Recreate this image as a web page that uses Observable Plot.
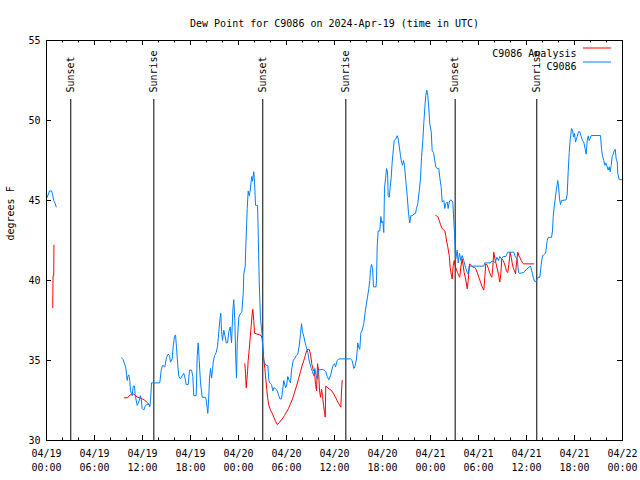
<!DOCTYPE html>
<html>
<head>
<meta charset="utf-8">
<script src="https://cdn.jsdelivr.net/npm/d3@7"></script>
<script src="https://cdn.jsdelivr.net/npm/@observablehq/plot@0.6"></script>
<style>
  html, body { margin: 0; padding: 0; background: #fff; }
  svg { display: block; }
</style>
</head>
<body>
<div id="chart"></div>
<script>
// ---- data (time in hours since 2024-04-19 00:00 UTC) ----
const title = "Dew Point for C9086 on 2024-Apr-19 (time in UTC)";
const yLabel = "degrees F";
const seriesNames = ["C9086 Analysis", "C9086"];
const seriesColors = ["#ff0000", "#0080ff"];

const c9086 = [
[0.09,45.2],[0.38,45.6],[0.63,45.6],[0.75,45.4],[0.91,45.0],[1.09,44.8],[1.21,44.6],[1.3,null],
[9.38,35.17],[9.59,35.05],[9.75,34.8],[9.91,34.55],[10.09,33.75],[10.16,34.0],[10.29,34.1],[10.41,33.75],[10.5,33.1],[10.71,32.8],[10.84,33.4],[11.0,33.4],[11.09,32.8],[11.34,32.2],[11.54,32.4],[11.75,32.8],[11.84,32.6],[11.96,32.0],[12.16,31.9],[12.38,32.2],[12.59,32.25],[12.84,32.25],[12.91,32.1],[13.0,32.5],[13.13,33.6],[14.16,33.6],[14.34,34.4],[14.5,34.7],[14.79,34.6],[15.0,35.2],[15.21,35.4],[15.38,35.3],[15.5,34.9],[15.71,35.1],[15.84,35.9],[16.0,36.5],[16.13,36.6],[16.25,35.8],[16.41,34.7],[16.54,34.0],[16.75,33.85],[16.96,34.05],[17.16,34.2],[17.34,33.85],[17.46,33.5],[17.71,33.5],[17.88,34.4],[18.13,34.4],[18.29,34.0],[18.41,32.8],[18.71,32.8],[18.84,35.3],[18.96,36.1],[19.09,35.0],[19.25,33.6],[19.46,32.7],[19.88,32.7],[20.0,32.4],[20.09,32.0],[20.16,31.7],[20.25,32.4],[20.38,33.9],[20.5,34.5],[20.63,33.9],[20.75,34.4],[20.84,34.9],[21.0,35.3],[21.21,35.5],[21.38,35.9],[21.54,36.8],[21.66,37.5],[21.79,37.95],[21.88,36.8],[22.0,36.25],[22.16,36.9],[22.29,36.6],[22.46,36.1],[22.63,36.1],[22.79,36.8],[22.96,37.1],[23.13,36.1],[23.29,38.1],[23.41,38.8],[23.54,37.5],[23.66,35.1],[23.75,33.9],[23.84,36.1],[24.04,37.7],[24.25,37.95],[24.41,38.0],[24.59,39.2],[24.66,40.4],[24.84,40.9],[24.91,42.1],[25.09,44.5],[25.21,45.6],[25.34,45.3],[25.46,45.6],[25.59,46.25],[25.66,46.5],[25.75,46.2],[25.91,46.8],[26.0,46.2],[26.13,44.7],[26.38,44.7],[26.46,43.1],[26.59,39.9],[26.75,37.6],[26.96,36.6],[27.04,35.5],[27.16,35.0],[27.29,34.8],[27.5,34.7],[27.66,34.7],[27.79,33.75],[27.91,33.6],[28.13,33.5],[28.29,33.1],[28.41,33.3],[28.63,33.25],[28.84,33.1],[29.04,32.8],[29.16,32.6],[29.38,32.6],[29.5,33.1],[29.66,33.75],[29.88,33.3],[30.0,33.4],[30.16,34.0],[30.34,33.75],[30.5,33.6],[30.63,34.4],[30.84,35.0],[31.0,35.1],[31.21,35.3],[31.41,35.4],[31.59,35.9],[31.75,36.7],[31.88,37.3],[32.0,36.8],[32.16,36.5],[32.34,36.1],[32.5,35.8],[32.66,35.5],[32.88,34.9],[33.09,34.5],[33.25,34.3],[33.41,34.05],[33.54,34.5],[33.71,34.05],[33.84,33.85],[34.0,34.4],[34.46,34.45],[34.71,34.4],[34.91,34.3],[35.09,34.0],[35.29,33.8],[35.5,34.05],[35.66,34.4],[35.84,34.7],[36.0,34.8],[36.13,34.6],[36.34,35.0],[36.54,35.1],[38.0,35.1],[38.21,35.0],[38.41,34.5],[38.54,34.6],[38.75,35.1],[38.91,36.1],[39.04,35.8],[39.16,35.7],[39.29,36.7],[39.46,36.9],[39.66,37.3],[39.88,38.2],[40.09,38.85],[40.29,39.5],[40.41,40.0],[40.5,40.7],[40.63,41.0],[40.75,40.8],[40.88,39.6],[41.19,39.6],[41.25,40.0],[41.34,42.2],[41.46,43.1],[41.66,43.1],[41.79,44.0],[41.91,43.6],[42.04,43.7],[42.16,43.0],[42.25,45.8],[42.38,46.35],[42.5,47.0],[42.63,46.8],[42.71,45.3],[42.84,45.2],[42.96,45.8],[43.09,46.45],[43.21,47.4],[43.34,48.1],[43.46,48.75],[43.66,48.85],[43.84,49.05],[43.96,48.85],[44.09,48.4],[44.25,47.8],[44.38,47.4],[44.5,47.2],[44.63,47.5],[44.75,47.2],[44.91,46.25],[45.09,45.3],[45.25,44.2],[45.41,43.6],[45.54,44.05],[45.75,44.05],[45.91,44.15],[46.13,44.2],[46.25,44.5],[46.41,44.8],[46.59,45.6],[46.75,46.35],[46.88,47.7],[47.04,48.75],[47.16,49.8],[47.29,50.8],[47.41,51.56],[47.54,51.9],[47.66,51.56],[47.79,50.8],[47.91,49.8],[48.09,49.3],[48.21,48.1],[48.38,48.0],[48.5,47.6],[48.66,47.1],[48.84,47.0],[49.04,47.0],[49.16,46.45],[49.34,45.8],[49.46,44.9],[49.66,45.0],[49.79,44.5],[49.91,44.8],[50.09,44.9],[50.21,44.5],[50.34,44.9],[50.5,45.04],[50.66,45.0],[50.79,44.9],[50.91,43.75],[51.0,43.0],[51.09,41.9],[51.16,41.35],[51.34,41.9],[51.46,41.1],[51.63,41.7],[51.79,41.25],[51.96,41.56],[52.16,41.25],[52.38,40.8],[52.59,40.5],[52.71,40.4],[52.84,40.9],[54.66,40.9],[54.79,41.1],[55.5,41.1],[55.63,41.2],[55.91,41.2],[56.09,41.1],[56.29,41.45],[56.5,41.25],[56.66,41.5],[56.88,41.35],[57.09,41.5],[57.41,41.5],[57.66,41.77],[58.41,41.77],[58.63,41.45],[58.84,41.35],[59.0,40.5],[59.16,40.45],[59.66,40.5],[60.0,40.7],[60.5,40.9],[60.66,40.6],[60.84,40.2],[61.0,39.95],[61.25,39.95],[61.41,40.2],[61.66,40.2],[61.84,41.0],[62.0,41.56],[62.16,41.6],[62.38,41.7],[62.59,42.5],[62.71,42.7],[63.13,42.7],[63.25,43.1],[63.34,44.0],[63.46,44.6],[63.59,45.1],[63.71,45.6],[63.84,46.0],[63.91,46.25],[64.0,45.9],[64.13,45.1],[64.25,44.75],[64.38,45.0],[64.96,45.04],[65.09,45.4],[65.21,46.8],[65.34,48.0],[65.46,48.8],[65.63,49.5],[65.75,49.4],[65.88,48.96],[66.0,49.2],[66.13,48.65],[66.34,49.0],[66.5,49.3],[66.66,49.3],[66.84,49.0],[67.0,48.75],[67.16,48.65],[67.34,48.2],[67.46,47.9],[67.59,48.75],[67.71,49.04],[67.84,48.75],[67.96,48.9],[68.09,49.06],[69.25,49.06],[69.38,48.2],[69.5,47.8],[69.66,47.5],[69.79,47.2],[69.91,47.35],[70.09,47.1],[70.21,46.9],[70.34,47.1],[70.46,46.8],[70.59,47.2],[70.71,47.75],[70.84,47.9],[70.96,48.1],[71.09,48.2],[71.21,47.6],[71.34,47.4],[71.41,46.7],[71.59,46.3],[72.0,46.3]
];

const c9086Analysis = [
[0.78,38.3],[0.82,40.3],[0.9,40.3],[0.93,42.2],[1.0,null],
[9.75,32.67],[10.09,32.67],[10.29,32.75],[10.59,32.9],[10.91,32.9],[11.16,32.8],[11.41,32.7],[11.66,32.67],[11.96,32.6],[12.25,32.54],[12.5,32.4],[12.75,32.3],[13.0,null],
[24.79,34.8],[24.88,34.2],[24.96,33.3],[25.04,33.75],[25.13,34.3],[25.21,35.0],[25.34,35.7],[25.46,36.4],[25.59,37.2],[25.71,37.9],[25.79,38.2],[25.91,37.5],[26.0,36.7],[26.34,36.65],[26.66,36.6],[26.84,36.56],[26.96,36.35],[27.04,35.9],[27.16,35.1],[27.29,34.5],[27.46,33.6],[27.63,32.7],[27.79,32.2],[28.0,31.9],[28.21,31.7],[28.41,31.46],[28.63,31.2],[28.84,31.0],[29.16,31.15],[29.46,31.35],[29.75,31.56],[30.0,31.77],[30.25,32.0],[30.5,32.3],[30.75,32.6],[31.0,33.0],[31.25,33.4],[31.5,33.85],[31.75,34.3],[31.96,34.7],[32.16,35.0],[32.34,35.3],[32.5,35.6],[32.66,35.7],[32.84,35.7],[33.0,35.4],[33.16,34.8],[33.34,34.4],[33.5,34.3],[33.63,33.5],[33.75,33.1],[33.88,34.8],[34.0,34.4],[34.13,33.1],[34.25,32.7],[34.38,33.2],[34.5,32.8],[34.63,32.2],[34.75,31.77],[34.84,31.46],[34.91,33.4],[35.16,33.3],[35.41,33.2],[35.66,33.1],[35.91,32.9],[36.16,32.67],[36.41,32.4],[36.66,32.2],[36.79,32.08],[36.88,33.1],[36.96,33.75],[37.2,null],
[48.66,44.06],[48.91,44.0],[49.09,43.75],[49.25,43.5],[49.41,43.3],[49.59,43.17],[49.79,43.1],[49.91,42.8],[50.04,42.4],[50.16,42.1],[50.34,41.56],[50.46,40.83],[50.59,40.4],[50.71,40.1],[50.84,40.94],[50.96,41.25],[51.09,40.9],[51.21,40.73],[51.38,40.5],[51.54,40.3],[51.66,40.2],[51.79,40.83],[51.96,41.35],[52.09,40.9],[52.21,40.5],[52.34,40.2],[52.46,39.9],[52.59,39.48],[52.71,40.0],[52.88,41.04],[53.09,40.94],[53.29,40.83],[53.5,40.83],[53.66,40.73],[53.84,40.5],[54.04,40.2],[54.25,39.9],[54.46,39.6],[54.66,39.4],[54.79,40.2],[54.91,41.04],[55.09,40.94],[55.25,40.73],[55.38,40.5],[55.54,40.3],[55.66,40.2],[55.79,40.83],[55.91,41.77],[56.09,41.25],[56.21,41.04],[56.34,40.73],[56.5,40.4],[56.66,39.9],[56.79,40.4],[56.91,41.35],[57.09,41.25],[57.25,41.04],[57.38,40.83],[57.5,40.58],[57.66,40.5],[57.79,41.0],[57.96,41.77],[58.09,41.45],[58.21,41.1],[58.34,40.8],[58.5,40.6],[58.63,40.42],[58.75,41.1],[58.91,41.77],[59.04,41.55],[59.16,41.45],[59.34,41.25],[59.5,41.1],[59.66,41.04],[60.91,41.04]
];

const sunTimes = ["2024-04-19T03:02Z","2024-04-19T13:25Z","2024-04-20T03:02Z","2024-04-20T13:25Z","2024-04-21T03:05Z","2024-04-21T13:17Z"];
const sunLabels = ["Sunset","Sunrise","Sunset","Sunrise","Sunset","Sunrise"];

const yTicks = [30, 35, 40, 45, 50, 55];
const xTickTimes = ["2024-04-19T00:00Z","2024-04-19T06:00Z","2024-04-19T12:00Z","2024-04-19T18:00Z","2024-04-20T00:00Z","2024-04-20T06:00Z","2024-04-20T12:00Z","2024-04-20T18:00Z","2024-04-21T00:00Z","2024-04-21T06:00Z","2024-04-21T12:00Z","2024-04-21T18:00Z","2024-04-22T00:00Z"];
const xTickLabels = ["04/19\n00:00","04/19\n06:00","04/19\n12:00","04/19\n18:00","04/20\n00:00","04/20\n06:00","04/20\n12:00","04/20\n18:00","04/21\n00:00","04/21\n06:00","04/21\n12:00","04/21\n18:00","04/22\n00:00"];

// ---- build ----
const t0 = Date.UTC(2024, 3, 19);
const toDate = h => new Date(t0 + h * 3600e3);
const blue = c9086.map(([h, v]) => ({t: toDate(h), v}));
const red = c9086Analysis.map(([h, v]) => ({t: toDate(h), v}));
const suns = sunTimes.map((s, i) => ({t: new Date(s), label: sunLabels[i]}));
const xMajor = xTickTimes.map(s => new Date(s));
const xLabels = xMajor.map((t, i) => ({t, label: xTickLabels[i]}));
const xMinor = d3.utcHour.every(2).range(xMajor[0], xMajor[xMajor.length - 1]).filter(d => d.getUTCHours() % 6 !== 0);

const W = 640, H = 480, mL = 46, mR = 18, mT = 40, mB = 40;
const fw = W - mL - mR, fh = H - mT - mB;
const FONT = "DejaVu Sans Mono";

const svg = Plot.plot({
  width: W, height: H,
  marginLeft: mL, marginRight: mR, marginTop: mT, marginBottom: mB,
  style: {fontFamily: FONT, fontSize: "10px", color: "black", background: "white"},
  x: {type: "utc", domain: [xMajor[0], xMajor[xMajor.length - 1]], axis: null},
  y: {domain: [30, 55], axis: null},
  marks: [
    // sunrise / sunset
    Plot.ruleX(suns, {x: "t", stroke: "black", strokeWidth: 1, insetTop: 59}),
    Plot.text(suns, {x: "t", text: "label", frameAnchor: "top", dy: 52, rotate: -90, textAnchor: "start", lineAnchor: "middle", fontSize: 10, fill: "black"}),
    // series
    Plot.line(red, {x: "t", y: "v", stroke: seriesColors[0], strokeWidth: 1}),
    Plot.line(blue, {x: "t", y: "v", stroke: seriesColors[1], strokeWidth: 1}),
    // frame
    Plot.frame({stroke: "black", strokeWidth: 1}),
    // x ticks (inward, bottom + top)
    Plot.tickX(xMajor, {x: d => d, stroke: "black", insetTop: fh - 5}),
    Plot.tickX(xMajor, {x: d => d, stroke: "black", insetBottom: fh - 5}),
    Plot.tickX(xMinor, {x: d => d, stroke: "black", insetTop: fh - 2.5}),
    Plot.tickX(xMinor, {x: d => d, stroke: "black", insetBottom: fh - 2.5}),
    // y ticks (inward, left + right)
    Plot.tickY(yTicks, {y: d => d, stroke: "black", insetRight: fw - 5}),
    Plot.tickY(yTicks, {y: d => d, stroke: "black", insetLeft: fw - 5}),
    // tick labels
    Plot.text(yTicks, {y: d => d, text: d => String(d), frameAnchor: "left", dx: -6, textAnchor: "end", fontSize: 10, fill: "black"}),
    Plot.text(xLabels, {x: "t", text: "label", frameAnchor: "bottom", dy: 7, lineAnchor: "top", lineHeight: 1.4, fontSize: 10, fill: "black"}),
    // title & axis label
    Plot.text([title], {frameAnchor: "top", dy: -21, fontSize: 10, fill: "black"}),
    Plot.text([yLabel], {frameAnchor: "left", dx: -36, rotate: -90, fontSize: 10, fill: "black"}),
    // legend labels
    Plot.text([seriesNames[0]], {frameAnchor: "top-right", dx: -46, dy: 9, textAnchor: "end", fontSize: 10, fill: "black"}),
    Plot.text([seriesNames[1]], {frameAnchor: "top-right", dx: -46, dy: 22, textAnchor: "end", fontSize: 10, fill: "black"})
  ]
});

// legend swatches
const sel = d3.select(svg);
[0, 1].forEach(i => {
  sel.append("line")
    .attr("x1", W - mR - 39).attr("x2", W - mR - 11)
    .attr("y1", mT + 8 + i * 14).attr("y2", mT + 8 + i * 14)
    .attr("stroke", seriesColors[i]).attr("stroke-width", 1);
});

document.getElementById("chart").appendChild(svg);
</script>
</body>
</html>
